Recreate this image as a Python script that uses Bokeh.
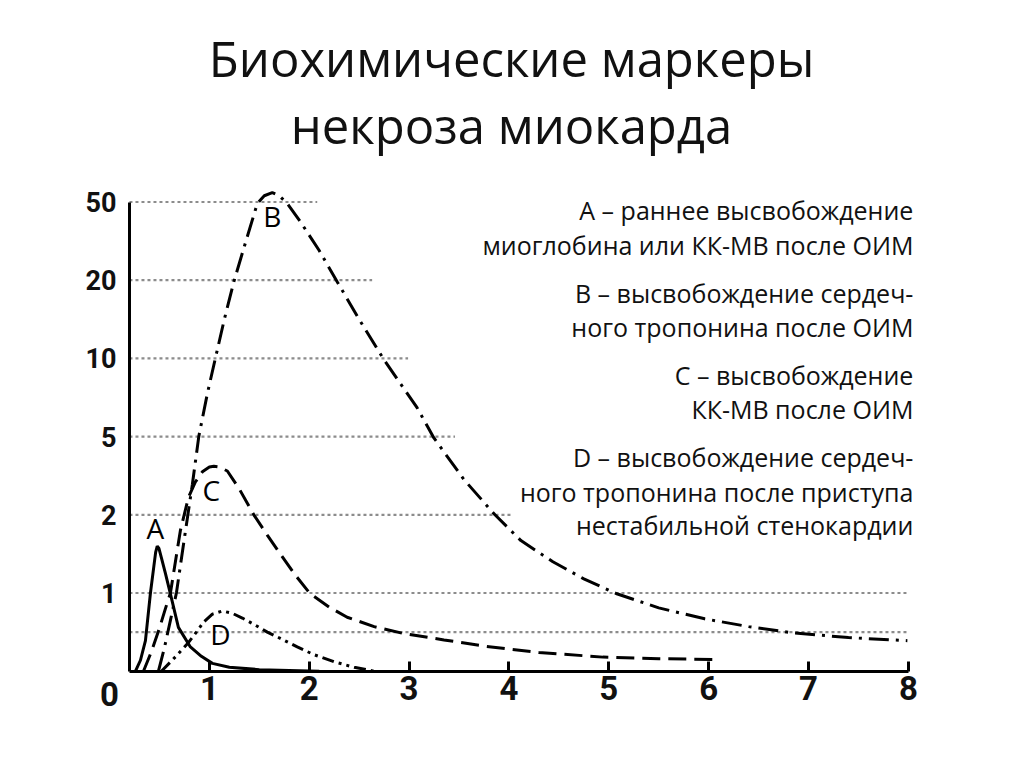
from bokeh.plotting import figure
from bokeh.models import LinearAxis, FixedTicker, Range1d
from bokeh.core.properties import value
from bokeh.embed import file_html
from bokeh.resources import INLINE

# ---------------- data ----------------
title_lines = ["Биохимические маркеры", "некроза миокарда"]

legend_lines = [
    "A – раннее высвобождение",
    "миоглобина или КК-МВ после ОИМ",
    "B – высвобождение сердеч-",
    "ного тропонина после ОИМ",
    "C – высвобождение",
    "КК-МВ после ОИМ",
    "D – высвобождение сердеч-",
    "ного тропонина после приступа",
    "нестабильной стенокардии",
]

# y axis: evenly spaced display levels with their printed values
y_levels = [1, 2, 3, 4, 5, 6]
y_labels = ["1", "2", "5", "10", "20", "50"]
grid_levels = [0.5, 1, 2, 3, 4, 5, 6]

x_ticks = [1, 2, 3, 4, 5, 6, 7, 8]
x_origin_label = "0"

# curves (x = time, y = display level)
a_x = [0.26, 0.31, 0.36, 0.41, 0.445, 0.462, 0.478, 0.495, 0.52, 0.56, 0.61, 0.69, 0.81, 0.92, 1.03, 1.2, 1.5, 1.8, 2.1]
a_y = [0.0, 0.14, 0.39, 1.0, 1.35, 1.52, 1.6, 1.57, 1.45, 1.25, 0.99, 0.56, 0.31, 0.19, 0.1, 0.05, 0.02, 0.01, 0.0]

b_x = [0.49, 0.55, 0.61, 0.67, 0.75, 0.83, 0.894, 0.98, 1.06, 1.15, 1.245, 1.345, 1.48, 1.55, 1.63, 1.7, 1.78, 1.91,
       2.1, 2.28, 2.5, 2.75, 3.08, 3.25, 3.55, 3.86, 4.12, 4.44, 4.75, 5.08, 5.5, 5.96, 6.4, 6.84, 7.4, 7.99]
b_y = [0.0, 0.3, 0.65, 1.0, 1.7, 2.39, 3.0, 3.55, 4.0, 4.5, 4.98, 5.41, 5.98, 6.08, 6.12, 6.08, 5.98, 5.75,
       5.38, 4.98, 4.5, 3.98, 3.37, 2.98, 2.45, 2.0, 1.67, 1.4, 1.18, 0.99, 0.81, 0.67, 0.57, 0.49, 0.43, 0.39]

c_x = [0.34, 0.42, 0.5, 0.56, 0.61, 0.66, 0.71, 0.79, 0.86, 0.93, 1.0, 1.045, 1.1, 1.18, 1.3, 1.445, 1.58, 1.71,
       1.86, 2.01, 2.2, 2.38, 2.65, 2.95, 3.35, 3.76, 4.3, 4.94, 5.5, 6.08]
c_y = [0.0, 0.25, 0.55, 0.8, 1.0, 1.4, 1.8, 2.22, 2.42, 2.55, 2.61, 2.62, 2.61, 2.56, 2.33, 2.0, 1.74, 1.5,
       1.23, 0.99, 0.82, 0.69, 0.57, 0.48, 0.4, 0.32, 0.24, 0.18, 0.16, 0.15]

d_x = [0.52, 0.65, 0.78, 0.87, 0.944, 1.03, 1.13, 1.23, 1.33, 1.445, 1.58, 1.71, 1.88, 2.05, 2.25, 2.45, 2.65]
d_y = [0.0, 0.17, 0.35, 0.5, 0.63, 0.73, 0.77, 0.74, 0.68, 0.6, 0.5, 0.42, 0.31, 0.21, 0.12, 0.05, 0.0]

curve_names = ["A", "B", "C", "D"]

# ---------------- layout / style ----------------
W, H = 1008, 750
X_SCALE = 99.86    # px per x unit
Y_SCALE = 78.2     # px per level
X0_PX = 109.0      # pixel of x = 0
Y0_PX = 670.7      # pixel of level 0 (from top)

grid_x0 = 0.2
grid_x1 = [8.0, 8.0, 4.03, 3.46, 2.99, 2.63, 2.08]

legend_x = 8.05
legend_y = [5.895, 5.448, 4.830, 4.402, 3.785, 3.347, 2.740, 2.292, 1.867]
title_x = 4.026
title_y = [7.839, 6.986]
name_x = [0.46, 1.63, 1.02, 1.11]
name_y = [1.825, 5.827, 2.311, 0.482]

p = figure(width=W, height=H, output_backend="svg", toolbar_location=None,
           x_range=Range1d(-X0_PX / X_SCALE, (W - X0_PX) / X_SCALE),
           y_range=Range1d(-(H - Y0_PX) / Y_SCALE, Y0_PX / Y_SCALE),
           x_axis_location=None, y_axis_location=None,
           min_border_left=0, min_border_right=0, min_border_top=0, min_border_bottom=0)
p.outline_line_color = None
p.xgrid.visible = False
p.ygrid.visible = False
p.background_fill_color = "white"
p.border_fill_color = "white"

# dotted reference lines
p.segment(x0=[grid_x0] * len(grid_levels), x1=grid_x1, y0=grid_levels, y1=grid_levels,
          line_color="#8c8c8c", line_width=2.2, line_dash="3 3")

# curves
p.line(a_x, a_y, line_color="black", line_width=3)
p.line(b_x, b_y, line_color="black", line_width=3, line_dash="20 7 3 7")
p.line(c_x, c_y, line_color="black", line_width=3, line_dash="18 8")
p.line(d_x, d_y, line_color="black", line_width=3, line_dash="12 5 3 5 3 5")

# curve names
p.text(x=name_x, y=name_y, text=curve_names, text_font=value("Open Sans"),
       text_font_size="28px", text_align="center", text_baseline="middle", text_color="black")

# legend text
p.text(x=[legend_x] * len(legend_lines), y=legend_y, text=legend_lines,
       text_font=value("Open Sans"), text_font_size="25px", text_align="right",
       text_baseline="middle", text_color="#111111")

# title
p.text(x=[title_x] * 2, y=title_y, text=title_lines, text_font=value("Open Sans"),
       text_font_size="49px", text_align="center", text_baseline="middle", text_color="#111111")

AX_FONT = "Roboto"

# y axis at the chart origin
yax = LinearAxis(fixed_location=0.2, bounds=(0, 6), ticker=FixedTicker(ticks=y_levels),
                 major_label_overrides={lv: lb for lv, lb in zip(y_levels, y_labels)})
yax.axis_line_width = 3
yax.axis_line_color = "black"
yax.major_tick_line_color = None
yax.minor_tick_line_color = None
yax.major_label_standoff = 7
yax.major_label_text_font = AX_FONT
yax.major_label_text_font_style = "bold"
yax.major_label_text_font_size = "27px"
yax.major_label_text_color = "#111111"
p.add_layout(yax, "left")

# x axis
xax = LinearAxis(fixed_location=0, bounds=(0.2, 8), ticker=FixedTicker(ticks=x_ticks))
xax.axis_line_width = 3
xax.axis_line_color = "black"
xax.major_tick_in = 10
xax.major_tick_out = 0
xax.major_tick_line_width = 3
xax.major_tick_line_color = "black"
xax.minor_tick_line_color = None
xax.major_label_standoff = 5
xax.major_label_text_font = AX_FONT
xax.major_label_text_font_style = "bold"
xax.major_label_text_font_size = "33px"
xax.major_label_text_color = "#111111"
p.add_layout(xax, "below")

# origin label "0"
oax = LinearAxis(fixed_location=0, ticker=FixedTicker(ticks=[0]),
                 major_label_overrides={0: x_origin_label})
oax.axis_line_color = None
oax.major_tick_line_color = None
oax.minor_tick_line_color = None
oax.major_label_standoff = 5
oax.major_label_text_font = AX_FONT
oax.major_label_text_font_style = "bold"
oax.major_label_text_font_size = "33px"
oax.major_label_text_color = "#111111"
p.add_layout(oax, "below")

open("out.html", "w").write(file_html(p, INLINE))
